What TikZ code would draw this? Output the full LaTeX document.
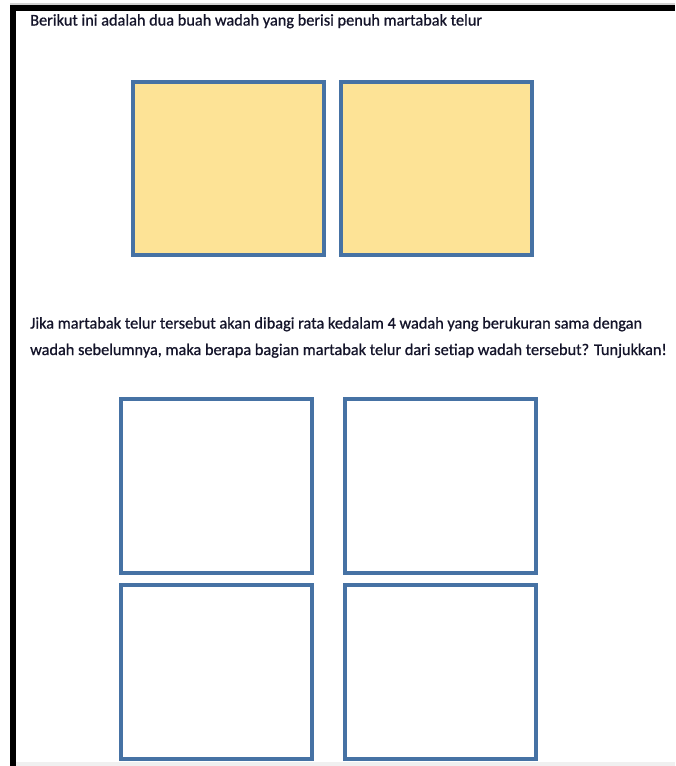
\documentclass[tikz,border=0pt]{standalone}
\usepackage{fontspec}
\setmainfont{Carlito}
\definecolor{boxline}{HTML}{4672A4}
\definecolor{boxfill}{HTML}{FDE396}
\definecolor{txt}{HTML}{14142A}
\tikzset{
  wadah/.style={draw=boxline, line width=4pt, rectangle, inner sep=0pt},
  fullbox/.style={wadah, fill=boxfill, minimum width=191pt, minimum height=173pt},
  emptybox/.style={wadah, fill=white, minimum width=191pt, minimum height=174pt},
  caption/.style={anchor=base west, inner sep=0pt, align=left, text=txt,
    font=\fontsize{16.3}{26.5}\selectfont\addfontfeature{FakeBold=0.8}}
}
\begin{document}
\begin{tikzpicture}[x=1pt,y=-1pt]
\useasboundingbox (0,0) rectangle (675,766);
\fill[white] (0,0) rectangle (675,766);
% frame
\fill[gray!35] (10,3) rectangle (675,4.5);
\fill[black] (10,4.5) rectangle (675,10.5);
\fill[black] (10,4.5) rectangle (16,766);
\fill[gray!12] (16,762) rectangle (675,766);
% texts
\node[caption] (t1) at (30,25.5) {Berikut ini adalah dua buah wadah yang berisi penuh martabak telur};
\node[caption] (t2) at (30,355) {Jika martabak telur tersebut akan dibagi rata kedalam 4 wadah yang berukuran sama dengan\\wadah sebelumnya, maka berapa bagian martabak telur dari setiap wadah tersebut? Tunjukkan!};
% full containers
\node[fullbox] (a1) at (228,168.5) {};
\node[fullbox] (a2) at (436.7,168) {};
% empty containers
\node[emptybox] (b1) at (216.5,486) {};
\node[emptybox] (b2) at (440.5,486) {};
\node[emptybox] (b3) at (216.5,672) {};
\node[emptybox] (b4) at (440.5,672) {};
\end{tikzpicture}
\end{document}
